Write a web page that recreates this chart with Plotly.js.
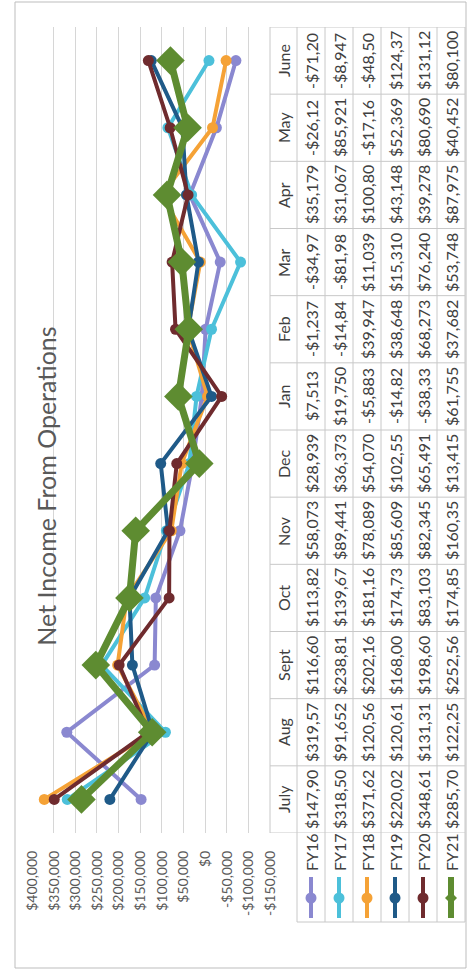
<!DOCTYPE html>
<html>
<head>
<meta charset="utf-8">
<script src="https://cdn.plot.ly/plotly-3.0.1.min.js"></script>
<style>
html,body{margin:0;padding:0;background:#fff;overflow:hidden;width:467px;height:972px}
#chart{position:absolute;left:0;top:0;width:972px;height:467px;transform-origin:0 0;transform:translate(0,972px) rotate(-90deg);}
</style>
</head>
<body>
<div id="chart"></div>
<script>
// ---- data ----
const months = ['July','Aug','Sept','Oct','Nov','Dec','Jan','Feb','Mar','Apr','May','June'];
const seriesNames = ['FY16','FY17','FY18','FY19','FY20','FY21'];
const fy16 = [147900, 319570, 116600, 113820, 58073, 28939, 7513, -1237, -34970, 35179, -26120, -71200];
const fy17 = [318500, 91652, 238810, 139670, 89441, 36373, 19750, -14840, -81980, 31067, 85921, -8947];
const fy18 = [371620, 120560, 202160, 181160, 78089, 54070, -5883, 39947, 11039, 100800, -17160, -48500];
const fy19 = [220020, 120610, 168000, 174730, 85609, 102550, -14820, 38648, 15310, 43148, 52369, 124370];
const fy20 = [348610, 131310, 198600, 83103, 82345, 65491, -38330, 68273, 76240, 39278, 80690, 131120];
const fy21 = [285700, 122250, 252560, 174850, 160350, 13415, 61755, 37682, 53748, 87975, 40452, 80100];
const yTicks = [400000, 350000, 300000, 250000, 200000, 150000, 100000, 50000, 0, -50000, -100000, -150000];

// ---- styles ----
const seriesValues = [fy16, fy17, fy18, fy19, fy20, fy21];
const colors = ['#8a88d0', '#4cc0da', '#f5a236', '#1f5a88', '#6f2b2e', '#5e8c31'];
const FONT = 'Lato, "Open Sans", sans-serif';
const TXT = '#404040';

// geometry of the unrotated chart (972 x 467)
const W = 972, H = 467;
const L = 139, R = 945, T = 32, B = 270;
const px = X => (X - L) / (R - L);
const py = Y => (B - Y) / (B - T);
const rowTop = [270, 297, 325, 353, 381, 409, 437, 465];

function money(v) {
  const s = String(Math.round(Math.abs(v))).replace(/\B(?=(\d{3})+(?!\d))/g, ',');
  return (v < 0 ? '-' : '') + '$' + s;
}

const traces = seriesNames.map((n, i) => {
  const last = i === seriesNames.length - 1;
  return {
    type: 'scatter', mode: 'lines+markers', name: n,
    x: months, y: seriesValues[i],
    line: {color: colors[i], width: last ? 7 : 4},
    marker: {color: colors[i], size: last ? 22 : 11, symbol: last ? 'diamond' : 'circle'},
    showlegend: false, cliponaxis: false
  };
});

const shapes = [];
const gridCol = '#c8c8c8';
// table horizontal lines
rowTop.forEach((Y, k) => {
  shapes.push({type: 'line', xref: 'paper', yref: 'paper',
    x0: k === 0 ? 0 : px(50), x1: 1, y0: py(Y), y1: py(Y),
    line: {color: gridCol, width: 1}});
});
// table vertical lines (category boundaries)
for (let k = 0; k <= months.length; k++) {
  shapes.push({type: 'line', xref: 'x', yref: 'paper',
    x0: k - 0.5, x1: k - 0.5, y0: py(270), y1: py(465),
    line: {color: gridCol, width: 1}});
}
shapes.push({type: 'line', xref: 'paper', yref: 'paper',
  x0: px(50), x1: px(50), y0: py(297), y1: py(465), line: {color: gridCol, width: 1}});
// outer chart border
shapes.push({type: 'rect', xref: 'paper', yref: 'paper',
  x0: px(4), x1: px(970), y0: py(15), y1: py(466),
  line: {color: '#bdbdbd', width: 1}, fillcolor: 'rgba(0,0,0,0)', layer: 'below'});

// legend keys
seriesNames.forEach((n, i) => {
  const last = i === seriesNames.length - 1;
  const Yc = (rowTop[i + 1] + rowTop[i + 2]) / 2;
  shapes.push({type: 'line', xref: 'paper', yref: 'paper',
    x0: px(54), x1: px(95), y0: py(Yc), y1: py(Yc),
    line: {color: colors[i], width: last ? 6 : 4}});
  if (last) {
    shapes.push({type: 'path', xref: 'paper', yref: 'paper',
      xsizemode: 'pixel', ysizemode: 'pixel', xanchor: px(74), yanchor: py(Yc),
      path: 'M 0 6 L 6 0 L 0 -6 L -6 0 Z', fillcolor: colors[i], line: {width: 0}});
  } else {
    shapes.push({type: 'circle', xref: 'paper', yref: 'paper',
      xsizemode: 'pixel', ysizemode: 'pixel', xanchor: px(74), yanchor: py(Yc),
      x0: -5.5, x1: 5.5, y0: -5.5, y1: 5.5, fillcolor: colors[i], line: {width: 0}});
  }
});

const annotations = [];
const cellFont = {family: FONT, size: 16, color: TXT};
months.forEach((m, j) => {
  annotations.push({xref: 'x', yref: 'paper', x: j, y: py((rowTop[0] + rowTop[1]) / 2),
    text: m, showarrow: false, font: cellFont, xanchor: 'center', yanchor: 'middle'});
});
seriesNames.forEach((n, i) => {
  const Yc = (rowTop[i + 1] + rowTop[i + 2]) / 2;
  annotations.push({xref: 'paper', yref: 'paper', x: px(99), y: py(Yc),
    text: n, showarrow: false, font: cellFont, xanchor: 'left', yanchor: 'middle'});
  seriesValues[i].forEach((v, j) => {
    annotations.push({xref: 'x', yref: 'paper', x: j, y: py(Yc),
      text: money(v).slice(0, 7), showarrow: false, font: cellFont,
      xanchor: 'center', yanchor: 'middle'});
  });
});

const layout = {
  width: W, height: H,
  margin: {l: L, r: W - R, t: T, b: H - B, pad: 0},
  paper_bgcolor: '#ffffff', plot_bgcolor: '#ffffff',
  font: {family: FONT, color: '#595959'},
  title: {text: 'Net Income From Operations', x: 0.5, xref: 'container', xanchor: 'center',
    y: 1 - 47 / H, yref: 'container', yanchor: 'middle',
    font: {family: FONT, size: 25, color: '#595959'}},
  xaxis: {type: 'category', range: [-0.5, 11.5], showticklabels: false, showgrid: false,
    zeroline: false, showline: false, ticks: '', fixedrange: true},
  yaxis: {range: [-150000, 400000], tickvals: yTicks, ticktext: yTicks.map(money),
    showgrid: true, gridcolor: '#d6d6d6', gridwidth: 1, zeroline: false, showline: false,
    ticks: 'outside', ticklen: 14, tickcolor: 'rgba(0,0,0,0)',
    tickfont: {family: FONT, size: 14, color: '#595959'}, fixedrange: true},
  shapes: shapes,
  annotations: annotations,
  showlegend: false
};

Plotly.newPlot('chart', traces, layout, {staticPlot: true, displayModeBar: false});
</script>
</body>
</html>
